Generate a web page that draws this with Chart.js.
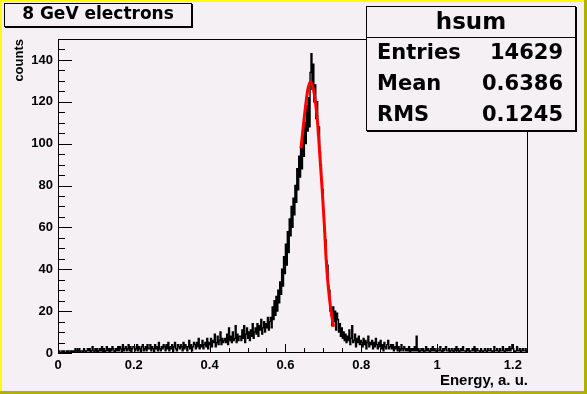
<!DOCTYPE html>
<html><head><meta charset="utf-8">
<script src="https://cdn.jsdelivr.net/npm/chart.js@4.4.1/dist/chart.umd.min.js"></script>
<style>
html,body{margin:0;padding:0;background:#f4f0f4;}
#wrap{position:relative;width:587px;height:394px;overflow:hidden;background:#f4f0f4;}
#c{position:absolute;left:0;top:0;}
.edge{position:absolute;}
.box{position:absolute;border:1px solid #000;box-shadow:1px 1px 0 #000;background:#f4f0f4;box-sizing:border-box;}
.t{position:absolute;white-space:nowrap;font-family:"DejaVu Sans";font-weight:bold;color:#000;}
</style></head>
<body>
<div id="wrap">
<canvas id="c" width="587" height="394"></canvas>
<div class="edge" style="left:0;top:0;width:587px;height:2px;background:#ffff00"></div>
<div class="edge" style="left:0;top:0;width:2px;height:394px;background:#ffff00"></div>
<div class="edge" style="left:0;top:391px;width:587px;height:3px;background:#b0b000"></div>
<div class="edge" style="left:584px;top:0;width:3px;height:394px;background:#b0b000"></div>

<div class="box" style="left:4px;top:3px;width:188px;height:24px;"></div>
<div class="t" id="title" style="left:4px;width:188px;text-align:center;top:5px;font-size:17px;line-height:17px;">8 GeV electrons</div>

<div class="box" style="left:366px;top:6px;width:210px;height:125px;"></div>
<div class="edge" style="left:366px;top:37px;width:210px;height:1px;background:#000"></div>
<div class="t" style="left:366px;width:210px;text-align:center;top:10px;font-size:23px;line-height:23px;">hsum</div>
<div class="t" style="left:377px;top:42px;font-size:21px;line-height:21px;">Entries</div>
<div class="t" style="right:24px;top:42px;font-size:21px;line-height:21px;">14629</div>
<div class="t" style="left:377px;top:73px;font-size:21px;line-height:21px;">Mean</div>
<div class="t" style="right:24px;top:73px;font-size:21px;line-height:21px;">0.6386</div>
<div class="t" style="left:377px;top:104px;font-size:21px;line-height:21px;">RMS</div>
<div class="t" style="right:24px;top:104px;font-size:21px;line-height:21px;">0.1245</div>
</div>
<script>
// ---- data ----
const binLow = 0;
const binWidth = 0.0025;
const counts = [
 0,1,0,0,1,0,1,0,0,1,0,1,1,0,1,0,
 1,0,2,1,0,1,2,0,1,1,0,2,1,0,1,2,
 1,2,0,1,3,1,0,2,1,2,0,1,2,1,3,0,
 2,0,1,3,1,2,0,2,1,3,2,0,1,2,1,3,
 1,3,2,0,4,1,2,3,1,2,4,1,3,0,2,3,
 3,1,2,4,1,3,2,0,3,4,1,2,3,1,4,2,
 2,4,1,3,2,0,4,2,3,1,5,2,1,3,2,4,
 3,1,4,2,5,1,3,2,4,0,3,5,2,1,4,3,
 2,4,3,1,5,2,4,3,1,3,6,2,4,1,3,5,
 4,2,5,3,7,2,4,3,6,2,4,5,3,7,2,5,
 4,7,3,6,5,9,3,5,8,4,6,10,4,7,5,6,
 7,5,9,4,12,6,8,5,10,6,7,13,5,9,6,8,
 8,6,11,7,13,5,9,12,7,10,6,11,8,14,7,10,
 12,9,14,8,13,11,16,9,12,15,10,14,12,17,11,15,
 17,12,22,16,25,18,27,20,30,24,34,28,40,32,46,38,
 52,42,58,48,64,56,70,60,74,66,80,72,88,78,94,84,
 98,88,104,94,110,100,118,106,122,108,134,143,126,138,120,128,
 112,120,104,108,96,90,82,78,68,58,54,44,42,32,30,20,
 18,13,22,15,20,11,19,16,10,14,8,12,7,10,6,9,
 5,8,6,11,4,7,13,5,6,9,3,7,5,8,4,6,
 5,3,7,4,6,2,5,8,3,5,4,6,2,5,3,7,
 4,2,5,3,6,2,4,1,5,3,2,4,6,2,3,4,
 2,4,1,3,2,5,1,3,2,1,4,2,1,3,2,1,
 2,1,3,0,2,1,2,1,3,1,8,1,2,0,1,2,
 1,2,0,1,3,1,2,1,0,2,1,3,1,2,1,0,
 2,1,1,3,1,0,2,1,2,3,1,1,2,0,1,2,
 1,0,2,1,3,1,2,0,1,2,1,3,1,1,0,2,
 1,2,0,1,1,2,1,3,0,1,2,1,1,0,2,1,
 0,1,2,1,0,2,1,1,2,1,0,1,3,1,1,2,
 1,0,2,1,1,3,1,0,2,1,2,1,3,1,2,4,
 2,1,0,1,3,1,1,2,0,1,2,1,1,2,0,1
];
const fitX = [0.641,0.647,0.653,0.659,0.666,0.676,0.685,0.691,0.697,0.703,0.707,0.713,0.720,0.727];
const fitY = [97.8,108,117.7,125.7,129.6,124,109.7,93.8,77.9,60.3,46,31.7,20.5,12.6];
const xTicks = [0,0.2,0.4,0.6,0.8,1,1.2];
const xTickLabels = ['0','0.2','0.4','0.6','0.8','1','1.2'];
const yTicks = [0,20,40,60,80,100,120,140];
const yTickLabels = ['0','20','40','60','80','100','120','140'];
const xMinorStep = 0.05, yMinorStep = 5;
const xRange = [0,1.24], yRange = [0,150];

// ---- build ----
const histPts = counts.map((c,i)=>({x: binLow + i*binWidth, y: c}));
histPts.push({x: binLow + counts.length*binWidth, y: counts[counts.length-1]});
const fitPts = fitX.map((x,i)=>({x, y: fitY[i]}));

const tickFont = {family:'Liberation Sans', weight:'bold', size:13};

const frameTicks = {
  id:'frameTicks',
  afterDatasetsDraw(chart){
    const {ctx, chartArea:a, scales:{x,y}} = chart;
    ctx.save();
    ctx.strokeStyle = '#000'; ctx.lineWidth = 1;
    ctx.beginPath();
    ctx.rect(Math.round(a.left)+0.5, Math.round(a.top)+0.5, Math.round(a.right-a.left)-1, Math.round(a.bottom-a.top)-1);
    ctx.stroke();
    ctx.beginPath();
    const n = Math.floor((xRange[1]-xRange[0])/xMinorStep + 1e-6);
    for (let k=0;k<=n;k++){
      const v = xRange[0]+k*xMinorStep;
      const major = xTicks.some(t=>Math.abs(t-v)<1e-6);
      const px = Math.round(x.getPixelForValue(v))+0.5;
      ctx.moveTo(px, a.bottom); ctx.lineTo(px, a.bottom-(major?9:5));
    }
    const m = Math.floor((yRange[1]-yRange[0])/yMinorStep + 1e-6);
    for (let k=0;k<=m;k++){
      const v = yRange[0]+k*yMinorStep;
      const major = yTicks.some(t=>Math.abs(t-v)<1e-6);
      const py = Math.round(y.getPixelForValue(v))+0.5;
      ctx.moveTo(a.left, py); ctx.lineTo(a.left+(major?14:7), py);
    }
    ctx.stroke();
    ctx.restore();
  }
};

new Chart(document.getElementById('c'), {
  type:'line',
  data:{datasets:[
    {label:'fit', data:fitPts, borderColor:'#ff0000', borderWidth:3, pointRadius:0, cubicInterpolationMode:'monotone', fill:false},
    {label:'hsum', data:histPts, borderColor:'#000000', borderWidth:1.4, pointRadius:0, stepped:'before', fill:false}
  ]},
  options:{
    responsive:false, animation:false, devicePixelRatio:1,
    layout:{padding:{top:39,right:59,left:0,bottom:0}},
    plugins:{legend:{display:false}, tooltip:{enabled:false}},
    scales:{
      x:{type:'linear', min:xRange[0], max:xRange[1],
        afterBuildTicks:s=>{s.ticks = xTicks.map(v=>({value:v}));},
        afterFit:s=>{s.height = 41;},
        grid:{display:false, drawTicks:false}, border:{display:false},
        ticks:{padding:5, font:tickFont, color:'#000', maxRotation:0, autoSkip:false,
          callback:(v)=>{const i = xTicks.findIndex(t=>Math.abs(t-v)<1e-6); return i>=0?xTickLabels[i]:'';}},
        title:{display:true, text:'Energy, a. u.', align:'end', color:'#000', font:{family:'Liberation Sans', weight:'bold', size:15}, padding:{top:0,bottom:4}}
      },
      y:{type:'linear', min:yRange[0], max:yRange[1],
        afterBuildTicks:s=>{s.ticks = yTicks.map(v=>({value:v}));},
        afterFit:s=>{s.width = 58;},
        grid:{display:false, drawTicks:false}, border:{display:false},
        ticks:{padding:5, font:tickFont, color:'#000', autoSkip:false,
          callback:(v)=>{const i = yTicks.findIndex(t=>Math.abs(t-v)<1e-6); return i>=0?yTickLabels[i]:'';}},
        title:{display:true, text:'counts', align:'end', color:'#000', font:{family:'Liberation Sans', weight:'bold', size:13}, padding:{top:12,bottom:0}}
      }
    }
  },
  plugins:[frameTicks]
});
</script>
</body></html>
